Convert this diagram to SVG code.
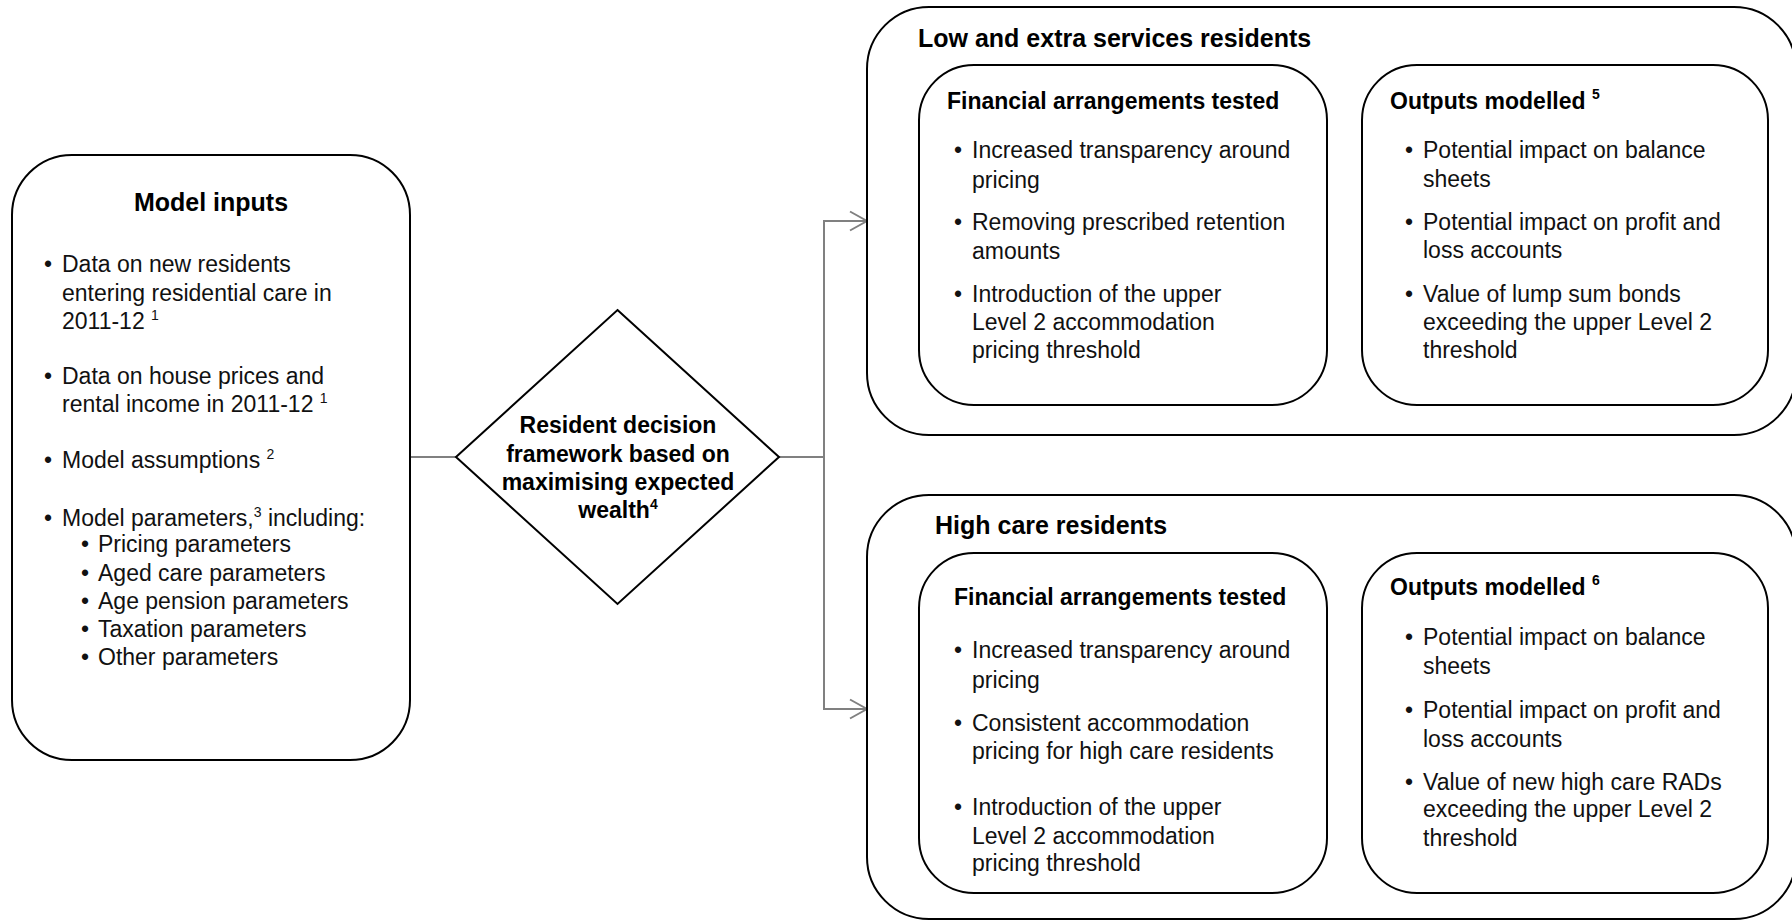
<svg xmlns="http://www.w3.org/2000/svg" width="1792" height="921" viewBox="0 0 1792 921">
<defs>
<marker id="arr" markerUnits="userSpaceOnUse" markerWidth="20" markerHeight="22" refX="18" refY="11" orient="auto">
<path d="M1,1.5 L18,11 L1,20.5" fill="none" stroke="#808080" stroke-width="2"/>
</marker>
<style>
.box{fill:#fff;stroke:#000;stroke-width:2}
.conn{fill:none;stroke:#808080;stroke-width:2}
.t{font-family:"Liberation Sans",Arial,sans-serif;font-size:23px;fill:#111}
.h{font-family:"Liberation Sans",Arial,sans-serif;font-weight:bold;font-size:23px;fill:#000}
.big{font-size:25px}
.sup{font-size:14px}
</style>
</defs>
<rect width="1792" height="921" fill="#fff"/>

<g id="connectors">
<path class="conn" d="M410,457 H456"/>
<path class="conn" d="M779,457 H824"/>
<path class="conn" d="M824,457 V221 H867" marker-end="url(#arr)"/>
<path class="conn" d="M824,457 V709 H867" marker-end="url(#arr)"/>
<path class="conn" d="M1327,235 H1361" marker-end="url(#arr)"/>
<path class="conn" d="M1327,723 H1361" marker-end="url(#arr)"/>
</g>

<g id="model-inputs">
<rect class="box" x="12" y="155" width="398" height="605" rx="60"/>
<text class="h big" x="211" y="211" text-anchor="middle">Model inputs</text>
<text class="t" x="44" y="272">•</text>
<text class="t" x="62" y="272">Data on new residents</text>
<text class="t" x="62" y="301">entering residential care in</text>
<text class="t" x="62" y="329">2011-12 <tspan class="sup" dy="-9">1</tspan></text>
<text class="t" x="44" y="384">•</text>
<text class="t" x="62" y="384">Data on house prices and</text>
<text class="t" x="62" y="412">rental income in 2011-12 <tspan class="sup" dy="-9">1</tspan></text>
<text class="t" x="44" y="468">•</text>
<text class="t" x="62" y="468">Model assumptions <tspan class="sup" dy="-9">2</tspan></text>
<text class="t" x="44" y="526">•</text>
<text class="t" x="62" y="526">Model parameters,<tspan class="sup" dy="-9">3</tspan><tspan dy="9"> including:</tspan></text>
<text class="t" x="81" y="552">•</text>
<text class="t" x="98" y="552">Pricing parameters</text>
<text class="t" x="81" y="581">•</text>
<text class="t" x="98" y="581">Aged care parameters</text>
<text class="t" x="81" y="609">•</text>
<text class="t" x="98" y="609">Age pension parameters</text>
<text class="t" x="81" y="637">•</text>
<text class="t" x="98" y="637">Taxation parameters</text>
<text class="t" x="81" y="665">•</text>
<text class="t" x="98" y="665">Other parameters</text>
</g>

<g id="decision">
<polygon class="box" points="617.5,310 779,457 617.5,604 456,457"/>
<text class="h" x="618" y="433" text-anchor="middle">Resident decision</text>
<text class="h" x="618" y="462" text-anchor="middle">framework based on</text>
<text class="h" x="618" y="490" text-anchor="middle">maximising expected</text>
<text class="h" x="618" y="518" text-anchor="middle">wealth<tspan class="sup" dy="-9">4</tspan></text>
</g>

<g id="low-extra">
<rect class="box" x="867" y="7" width="929" height="428" rx="62"/>
<text class="h big" x="918" y="47">Low and extra services residents</text>
</g>

<g id="low-financial">
<rect class="box" x="919" y="65" width="408" height="340" rx="55"/>
<text class="h" x="947" y="109">Financial arrangements tested</text>
<text class="t" x="954" y="158">•</text>
<text class="t" x="972" y="158">Increased transparency around</text>
<text class="t" x="972" y="188">pricing</text>
<text class="t" x="954" y="230">•</text>
<text class="t" x="972" y="230">Removing prescribed retention</text>
<text class="t" x="972" y="259">amounts</text>
<text class="t" x="954" y="302">•</text>
<text class="t" x="972" y="302">Introduction of the upper</text>
<text class="t" x="972" y="330">Level 2 accommodation</text>
<text class="t" x="972" y="358">pricing threshold</text>
</g>

<g id="low-outputs">
<rect class="box" x="1362" y="65" width="406" height="340" rx="55"/>
<text class="h" x="1390" y="109">Outputs modelled <tspan class="sup" dy="-10">5</tspan></text>
<text class="t" x="1405" y="158">•</text>
<text class="t" x="1423" y="158">Potential impact on balance</text>
<text class="t" x="1423" y="187">sheets</text>
<text class="t" x="1405" y="230">•</text>
<text class="t" x="1423" y="230">Potential impact on profit and</text>
<text class="t" x="1423" y="258">loss accounts</text>
<text class="t" x="1405" y="302">•</text>
<text class="t" x="1423" y="302">Value of lump sum bonds</text>
<text class="t" x="1423" y="330">exceeding the upper Level 2</text>
<text class="t" x="1423" y="358">threshold</text>
</g>

<g id="high-care">
<rect class="box" x="867" y="495" width="929" height="424" rx="62"/>
<text class="h big" x="935" y="534">High care residents</text>
</g>

<g id="high-financial">
<rect class="box" x="919" y="553" width="408" height="340" rx="55"/>
<text class="h" x="954" y="605">Financial arrangements tested</text>
<text class="t" x="954" y="658">•</text>
<text class="t" x="972" y="658">Increased transparency around</text>
<text class="t" x="972" y="688">pricing</text>
<text class="t" x="954" y="731">•</text>
<text class="t" x="972" y="731">Consistent accommodation</text>
<text class="t" x="972" y="759">pricing for high care residents</text>
<text class="t" x="954" y="815">•</text>
<text class="t" x="972" y="815">Introduction of the upper</text>
<text class="t" x="972" y="844">Level 2 accommodation</text>
<text class="t" x="972" y="871">pricing threshold</text>
</g>

<g id="high-outputs">
<rect class="box" x="1362" y="553" width="406" height="340" rx="55"/>
<text class="h" x="1390" y="595">Outputs modelled <tspan class="sup" dy="-10">6</tspan></text>
<text class="t" x="1405" y="645">•</text>
<text class="t" x="1423" y="645">Potential impact on balance</text>
<text class="t" x="1423" y="674">sheets</text>
<text class="t" x="1405" y="718">•</text>
<text class="t" x="1423" y="718">Potential impact on profit and</text>
<text class="t" x="1423" y="747">loss accounts</text>
<text class="t" x="1405" y="790">•</text>
<text class="t" x="1423" y="790">Value of new high care RADs</text>
<text class="t" x="1423" y="817">exceeding the upper Level 2</text>
<text class="t" x="1423" y="846">threshold</text>
</g>
</svg>
